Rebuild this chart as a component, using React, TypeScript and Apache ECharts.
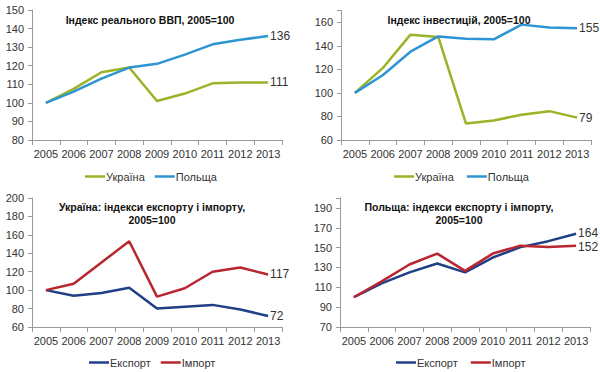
import React, { useEffect, useRef } from "react";
import * as echarts from "echarts";

const years = ["2005", "2006", "2007", "2008", "2009", "2010", "2011", "2012", "2013"];

const gdpUkraine = [100, 107.5, 116.5, 119, 101, 105, 110.5, 111, 111];
const gdpPoland = [100, 106, 113, 119, 121, 126, 131.5, 134, 136];

const invUkraine = [100, 121, 149.5, 147.5, 74, 76.5, 81.5, 84.5, 79];
const invPoland = [100, 115, 135, 148, 146, 145.5, 158, 155.5, 155];

const uaExport = [100, 94, 97, 102.5, 80, 82, 84, 79, 72];
const uaImport = [100, 107, 130, 153, 93, 102, 120, 124.5, 117];

const plExport = [100, 114, 125, 134, 125, 140, 150.5, 156.5, 164];
const plImport = [100, 116, 133, 144, 126.5, 144, 152, 150.5, 152];

const GREEN = "#9BB326";
const BLUE = "#2C95D2";
const NAVY = "#1F3F86";
const RED = "#B8262F";

const FONT = "Liberation Sans, Arial, sans-serif";
const TXT = "#333";

export default function App() {
  const ref = useRef<HTMLDivElement>(null);
  useEffect(() => {
    const chart = echarts.init(ref.current!, null, { renderer: "svg" });

    const grids = [
      { left: 32, top: 10, width: 250, height: 130 },
      { left: 341, top: 10.5, width: 250, height: 129.5 },
      { left: 32, top: 198, width: 250, height: 129 },
      { left: 340, top: 198, width: 250, height: 129 },
    ];
    const yCfg = [
      { min: 80, max: 150, interval: 10 },
      { min: 60, max: 170, interval: 20 },
      { min: 60, max: 200, interval: 20 },
      { min: 70, max: 200, interval: 20 },
    ];

    const xAxis = grids.map((_, i) => ({
      type: "category",
      gridIndex: i,
      data: years,
      boundaryGap: true,
      axisLine: { lineStyle: { color: "#999", width: 1 } },
      axisTick: { show: true, length: 5, lineStyle: { color: "#999" } },
      axisLabel: { color: TXT, fontSize: 11, fontFamily: FONT, margin: 8, interval: 0 },
    }));
    const yAxis = yCfg.map((c, i) => ({
      type: "value",
      gridIndex: i,
      min: c.min,
      max: c.max,
      interval: c.interval,
      splitLine: { show: false },
      axisLine: { show: true, lineStyle: { color: "#999", width: 1 } },
      axisTick: { show: true, length: 4, lineStyle: { color: "#999" } },
      axisLabel: {
        color: TXT,
        fontSize: 11,
        fontFamily: FONT,
        margin: 8,
        formatter: (v: number) => ((v - c.min) % c.interval !== 0 ? "" : String(v)),
      },
    }));

    const mk = (name: string, data: number[], color: string, idx: number, dy = 0) => ({
      name,
      type: "line",
      xAxisIndex: idx,
      yAxisIndex: idx,
      data,
      symbol: "none",
      lineStyle: { color, width: 2.5 },
      itemStyle: { color },
      endLabel: {
        show: true,
        formatter: (p: any) => String(Math.round(p.value)),
        color: TXT,
        fontSize: 12,
        fontFamily: FONT,
        distance: 2,
        offset: [0, dy],
      },
    });

    const series = [
      mk("Україна", gdpUkraine, GREEN, 0),
      mk("Польща", gdpPoland, BLUE, 0),
      { ...mk("Україна", invUkraine, GREEN, 1), name: "Україна " },
      { ...mk("Польща", invPoland, BLUE, 1), name: "Польща " },
      mk("Експорт", uaExport, NAVY, 2),
      mk("Імпорт", uaImport, RED, 2),
      { ...mk("Експорт", plExport, NAVY, 3, -1), name: "Експорт " },
      { ...mk("Імпорт", plImport, RED, 3, 1.5), name: "Імпорт " },
    ];

    const legendBase = {
      icon: "rect",
      itemWidth: 20,
      itemHeight: 2.5,
      itemGap: 10,
      textStyle: { color: TXT, fontSize: 11, fontFamily: FONT, padding: [0, 0, 0, -4] },
    };
    const legends = [
      { ...legendBase, data: ["Україна", "Польща"], left: 80, top: 166 },
      { ...legendBase, data: ["Україна ", "Польща "], left: 389, top: 166 },
      { ...legendBase, data: ["Експорт", "Імпорт"], left: 84, top: 352 },
      { ...legendBase, data: ["Експорт ", "Імпорт "], left: 391, top: 352 },
    ];

    const titleStyle = { fontSize: 10.5, fontWeight: "bold", color: "#111", fontFamily: FONT, lineHeight: 13 };
    const title = [
      { text: "Індекс реального ВВП, 2005=100", left: 145, top: 8, textAlign: "center", textStyle: titleStyle },
      { text: "Індекс інвестицій, 2005=100", left: 454, top: 8, textAlign: "center", textStyle: titleStyle },
      {
        text: "Україна: індекси експорту і імпорту,\n2005=100",
        left: 147,
        top: 195,
        textAlign: "center",
        textStyle: { ...titleStyle, align: "center" },
      },
      {
        text: "Польща: індекси експорту і імпорту,\n2005=100",
        left: 454,
        top: 195,
        textAlign: "center",
        textStyle: { ...titleStyle, align: "center" },
      },
    ];

    chart.setOption({
      animation: false,
      backgroundColor: "#fff",
      title,
      legend: legends,
      grid: grids,
      xAxis,
      yAxis,
      series,
    } as any);
    return () => chart.dispose();
  }, []);
  return <div ref={ref} style={{ width: 600, height: 372, position: "absolute", left: 0, top: 0 }} />;
}
